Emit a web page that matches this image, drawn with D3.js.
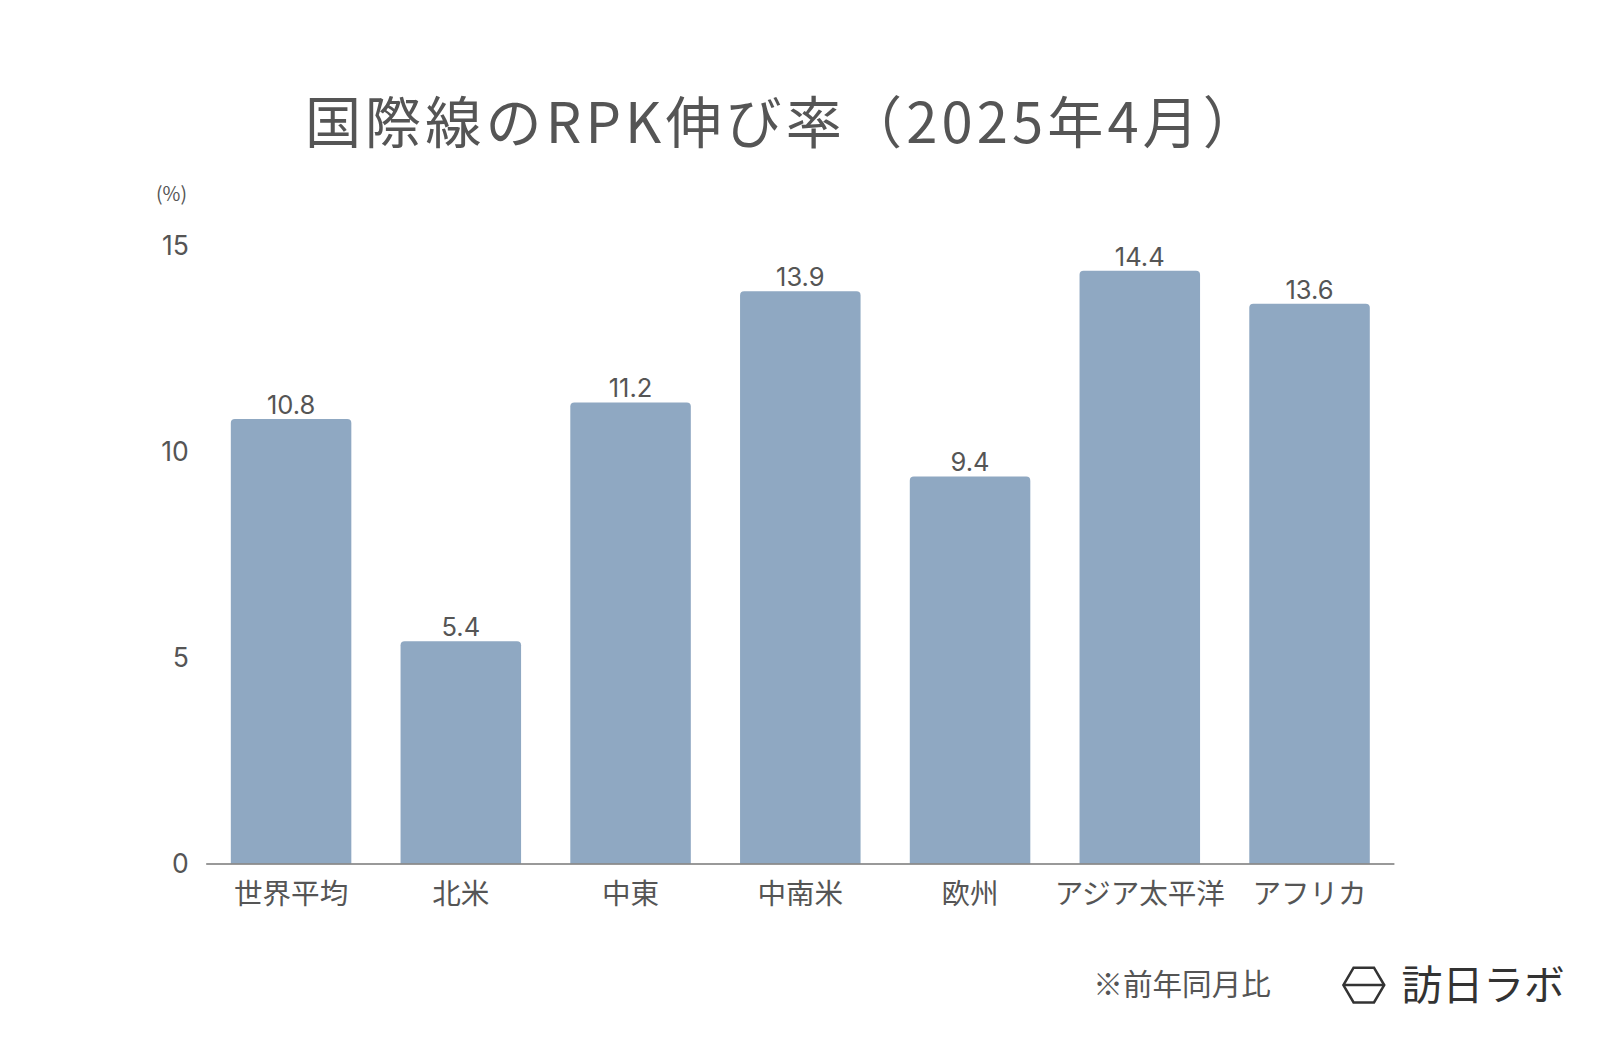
<!DOCTYPE html>
<html><head><meta charset="utf-8">
<script src="https://cdn.jsdelivr.net/npm/d3@7"></script>
<style>body{margin:0;background:#fff}svg{display:block;font-family:"Noto Sans CJK JP","Noto Sans",sans-serif}
.num{font-family:Inter,"Noto Sans",sans-serif}</style>
</head><body><svg id="c" width="1600" height="1048"></svg>
<script>
// ── data ──
const regions = ["世界平均", "北米", "中東", "中南米", "欧州", "アジア太平洋", "アフリカ"];
const growth = [10.8, 5.4, 11.2, 13.9, 9.4, 14.4, 13.6];
const yTicks = [0, 5, 10, 15];

const root = d3.select("#c");
const svg = root.append("g").attr("transform", "scale(1.0208)");
const TXT = "#555";

const x = d3.scaleBand().domain(regions).range([202, 1366]).paddingInner(0.29).paddingOuter(0.145);
const y = d3.scaleLinear().domain([0, 15]).range([846, 241]);

svg.append("text").attr("x", 768).attr("y", 140).attr("text-anchor", "middle")
  .attr("font-size", 55).attr("letter-spacing", 4).attr("fill", TXT).text("国際線のRPK伸び率（2025年4月）");

svg.append("text").attr("x", 168).attr("y", 197).attr("text-anchor", "middle")
  .attr("font-size", 19).attr("fill", TXT).text("(%)");

svg.selectAll("text.yt").data(yTicks).enter().append("text")
  .attr("class", "num").attr("x", 185).attr("y", d => y(d) + 9)
  .attr("text-anchor", "end").attr("font-size", 26).attr("fill", TXT).text(d => d);

// bars with rounded top
const r = 4;
svg.selectAll("path.bar").data(growth).enter().append("path")
  .attr("fill", "#8fa8c2")
  .attr("d", (d, i) => {
    const x0 = x(regions[i]), w = x.bandwidth(), y0 = y(d), yb = y(0);
    return `M${x0},${yb}V${y0 + r}Q${x0},${y0} ${x0 + r},${y0}H${x0 + w - r}Q${x0 + w},${y0} ${x0 + w},${y0 + r}V${yb}Z`;
  });

svg.selectAll("text.val").data(growth).enter().append("text")
  .attr("class", "num")
  .attr("x", (d, i) => x(regions[i]) + x.bandwidth() / 2).attr("y", d => y(d) - 5)
  .attr("text-anchor", "middle").attr("font-size", 25).attr("fill", TXT).text(d => d.toFixed(1));

svg.append("line").attr("x1", 202).attr("x2", 1366).attr("y1", 846.5).attr("y2", 846.5)
  .attr("stroke", "#777").attr("stroke-width", 1.5);

svg.selectAll("text.cat").data(regions).enter().append("text")
  .attr("x", d => x(d) + x.bandwidth() / 2).attr("y", 886)
  .attr("text-anchor", "middle").attr("font-size", 28).attr("fill", TXT).text(d => d);

svg.append("text").attr("x", 1245).attr("y", 975).attr("text-anchor", "end")
  .attr("font-size", 29).attr("fill", TXT).text("※前年同月比");

// logo
const g = svg.append("g").attr("transform", "translate(1336,965)");
g.append("path").attr("d", "M-20,0L-10,-17H10L20,0L10,17H-10Z").attr("fill", "none").attr("stroke", "#333").attr("stroke-width", 2.5);
g.append("line").attr("x1", -20).attr("x2", 20).attr("y1", 0).attr("y2", 0).attr("stroke", "#333").attr("stroke-width", 2.5);
svg.append("text").attr("x", 1373).attr("y", 980).attr("font-size", 40).attr("fill", "#333")
  .attr("letter-spacing", 0).text("訪日ラボ");
</script></body></html>
